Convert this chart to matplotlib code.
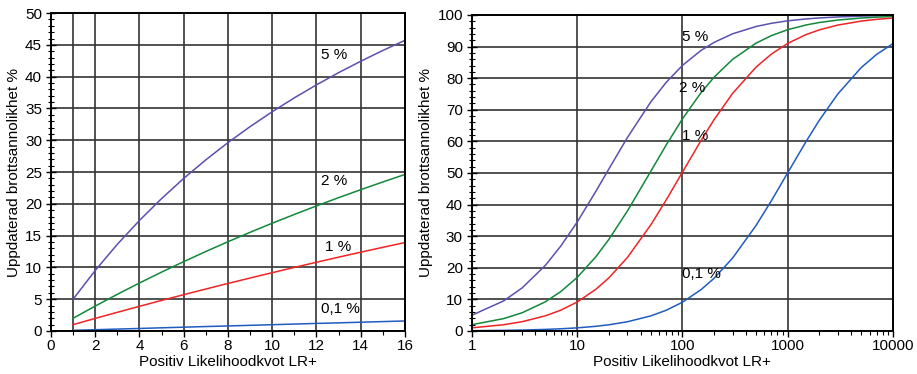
import matplotlib
matplotlib.use("Agg")
import matplotlib.pyplot as plt
from matplotlib.ticker import MultipleLocator, LogLocator, NullFormatter

plt.rcParams['font.family'] = ['Liberation Sans', 'DejaVu Sans']
plt.rcParams['font.size'] = 11

# Linear panel: LR+ 1..16, updated probability (%) per prior
lr_lin = [1, 2, 3, 4, 5, 6, 7, 8, 9, 10, 11, 12, 13, 14, 15, 16]
lin_5 = [5.00, 9.52, 13.64, 17.39, 20.83, 24.00, 26.92, 29.63, 32.14, 34.48,
         36.67, 38.71, 40.63, 42.42, 44.12, 45.71]
lin_2 = [2.00, 3.92, 5.77, 7.55, 9.26, 10.91, 12.50, 14.04, 15.52, 16.95,
         18.33, 19.67, 20.97, 22.22, 23.44, 24.62]
lin_1 = [1.00, 1.98, 2.94, 3.88, 4.81, 5.71, 6.60, 7.48, 8.33, 9.17,
         10.00, 10.81, 11.61, 12.39, 13.16, 13.91]
lin_01 = [0.10, 0.20, 0.30, 0.40, 0.50, 0.60, 0.70, 0.79, 0.89, 0.99,
          1.09, 1.19, 1.28, 1.38, 1.48, 1.58]

# Log panel: LR+ 1..10000
lr_log = [1, 2, 3, 5, 7, 10, 15, 20, 30, 50, 70, 100, 150, 200, 300, 500,
          700, 1000, 1500, 2000, 3000, 5000, 7000, 10000]
log_5 = [5.00, 9.52, 13.64, 20.83, 26.92, 34.48, 44.12, 51.28, 61.22, 72.46,
         78.65, 84.03, 88.76, 91.32, 94.04, 96.34, 97.36, 98.14, 98.75, 99.06,
         99.37, 99.62, 99.73, 99.81]
log_2 = [2.00, 3.92, 5.77, 9.26, 12.50, 16.95, 23.44, 28.99, 37.97, 50.51,
         58.82, 67.11, 75.38, 80.32, 85.96, 91.07, 93.46, 95.33, 96.84, 97.61,
         98.39, 99.03, 99.30, 99.51]
log_1 = [1.00, 1.98, 2.94, 4.81, 6.60, 9.17, 13.16, 16.81, 23.26, 33.56,
         41.42, 50.25, 60.24, 66.89, 75.19, 83.47, 87.61, 90.99, 93.81, 95.28,
         96.80, 98.06, 98.61, 99.02]
log_01 = [0.10, 0.20, 0.30, 0.50, 0.70, 0.99, 1.48, 1.96, 2.92, 4.77,
          6.55, 9.10, 13.06, 16.68, 23.09, 33.36, 41.20, 50.03, 60.02, 66.69,
          75.02, 83.35, 87.51, 90.92]

labels = ['5 %', '2 %', '1 %', '0,1 %']
colors = ['#5a50b0', '#11883a', '#f02424', '#1f5cc0']

fig = plt.figure(figsize=(9.17, 3.74), dpi=100)
ax1 = fig.add_axes([0.0556, 0.115, 0.386, 0.85])
ax2 = fig.add_axes([0.5147, 0.115, 0.459, 0.845])

grid_kw = dict(color='#333333', lw=1.2, zorder=1)

# left panel
for ys, c in zip([lin_5, lin_2, lin_1, lin_01], colors):
    ax1.plot(lr_lin, ys, color=c, lw=1.1, zorder=3)
ax1.set_xlim(0, 16)
ax1.set_ylim(0, 50)
ax1.xaxis.set_major_locator(MultipleLocator(2))
ax1.xaxis.set_minor_locator(MultipleLocator(1))
ax1.yaxis.set_major_locator(MultipleLocator(5))
ax1.yaxis.set_minor_locator(MultipleLocator(1))
ax1.grid(True, which='major', **grid_kw)
ax1.axvline(1, **grid_kw)
for txt, (x, y) in zip(labels, [(12.2, 43.4), (12.2, 23.6), (12.4, 13.2), (12.2, 3.5)]):
    ax1.text(x, y, txt, fontsize=11, ha='left', va='center', zorder=4)

# right panel
for ys, c in zip([log_5, log_2, log_1, log_01], colors):
    ax2.plot(lr_log, ys, color=c, lw=1.1, zorder=3)
ax2.set_xscale('log')
ax2.set_xlim(1, 10000)
ax2.set_ylim(0, 100)
ax2.xaxis.set_minor_locator(LogLocator(base=10, subs=range(2, 10)))
ax2.xaxis.set_minor_formatter(NullFormatter())
ax2.set_xticks([1, 10, 100, 1000, 10000])
ax2.set_xticklabels(['1', '10', '100', '1000', '10000'])
ax2.yaxis.set_major_locator(MultipleLocator(10))
ax2.yaxis.set_minor_locator(MultipleLocator(2))
ax2.grid(True, which='major', **grid_kw)
for txt, (x, y) in zip(labels, [(100, 93.0), (92, 76.9), (100, 61.7), (100, 18.0)]):
    ax2.text(x, y, txt, fontsize=11, ha='left', va='center', zorder=4)

for ax in (ax1, ax2):
    ax.set_xlabel('Positiv Likelihoodkvot LR+', fontsize=11, labelpad=1)
    ax.set_ylabel('Uppdaterad brottsannolikhet %', fontsize=11, labelpad=3)
    for s in ax.spines.values():
        s.set_linewidth(1.4)
        s.set_zorder(5)
    ax.tick_params(axis='y', which='major', direction='inout', length=7, width=1, labelsize=11, pad=3)
    ax.tick_params(axis='y', which='minor', direction='inout', length=4, width=0.8)
    ax.tick_params(axis='x', which='major', direction='out', length=4, width=1, labelsize=11, pad=2)
    ax.tick_params(axis='x', which='minor', direction='out', length=3, width=0.8)

fig.savefig('out.png', dpi=100)
